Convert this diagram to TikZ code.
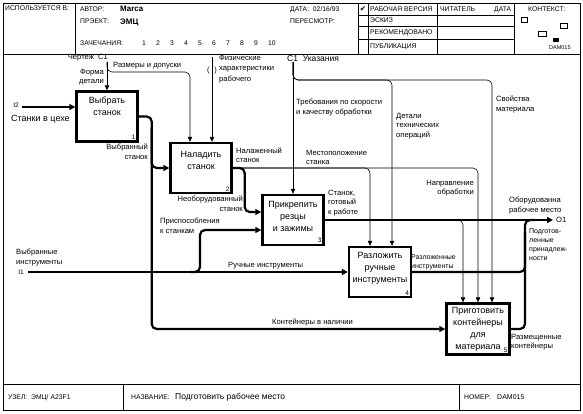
\documentclass[tikz,border=0pt]{standalone}
\usepackage{fontspec}
\setmainfont{Liberation Sans}
\newfontfamily\chkfont{DejaVu Sans}
\usetikzlibrary{arrows.meta}

\begin{document}
\begin{tikzpicture}[x=1pt,y=-1pt]
\tikzstyle{func}=[draw,line width=2.4pt,minimum width=61pt,minimum height=50pt,inner sep=1pt,align=center,font=\fontsize{9}{12}\selectfont]
\tikzstyle{num}=[anchor=south east,inner sep=3pt,font=\fontsize{6.5}{6.5}\selectfont]
\tikzstyle{heavy}=[line width=2.2pt,rounded corners=5pt,-{Triangle[length=6pt,width=6pt]}]
\tikzstyle{light}=[line width=0.6pt,rounded corners=5pt,-{Triangle[length=5pt,width=4.5pt]}]
\tikzstyle{lbl}=[inner sep=0pt,align=left,font=\fontsize{7.6}{9.5}\selectfont]
\tikzstyle{hdr}=[inner sep=0pt,anchor=base west,font=\fontsize{6.8}{7}\selectfont]
\useasboundingbox (0,0) rectangle (583,414);
\fill[white] (0,0) rectangle (583,414);

% frame, header and footer
\draw[line width=0.8pt] (3,3) rectangle (580,410);
\draw (3,54) -- (580,54) (3,384) -- (580,384);
\foreach \x in {75,358,368,437,514} \draw (\x,3) -- (\x,54);
\foreach \y in {15,26,39} \draw (358,\y) -- (514,\y);
\foreach \x in {123,459} \draw (\x,384) -- (\x,410);
\node[hdr] (hisp) at (5,11) {ИСПОЛЬЗУЕТСЯ В:};
\node[hdr] (haut) at (80,12) {АВТОР:};
\node[hdr,font=\fontsize{8}{8}\selectfont\bfseries] (hmar) at (120,12) {Marca};
\node[hdr] (hprj) at (80,24) {ПРЭЕКТ:};
\node[hdr,font=\fontsize{8}{8}\selectfont\bfseries] (hemc) at (120,25) {ЭМЦ};
\node[hdr] (hzam) at (80,46) {ЗАЧЕЧАНИЯ:};
\foreach \n in {1,...,10} \node[hdr] (hz\n) at (128+14*\n,46) {\n};
\node[hdr] (hdat) at (290,12) {ДАТА: \ 02/16/93};
\node[hdr] (hper) at (290,24) {ПЕРЕСМОТР:};
\node[inner sep=0pt,font=\chkfont\fontsize{7.5}{7.5}\selectfont] (hchk) at (363,9) {✔};
\node[hdr] (hrab) at (370,12) {РАБОЧАЯ ВЕРСИЯ};
\node[hdr] (hesk) at (370,23) {ЭСКИЗ};
\node[hdr] (hrek) at (370,35) {РЕКОМЕНДОВАНО};
\node[hdr] (hpub) at (370,49) {ПУБЛИКАЦИЯ};
\node[hdr] (hcht) at (440,12) {ЧИТАТЕЛЬ};
\node[hdr] (hdt2) at (494,12) {ДАТА};
\node[hdr] (hkon) at (528,12) {КОНТЕКСТ:};
\draw (521,17) rectangle (527,22) (560,23) rectangle (567,28) (538,31) rectangle (546,36);
\fill (553,38) rectangle (559,42);
\node[hdr,font=\fontsize{5.5}{5.5}\selectfont] (hdam) at (549,50) {DAM015};
\node[hdr] (fuz) at (8,399) {УЗЕЛ: \ ЭМЦ/ A23F1};
\node[hdr] (fnaz) at (131,399) {НАЗВАНИЕ:};
\node[hdr,font=\fontsize{8.5}{9}\selectfont] (fpod) at (175,399) {Подготовить рабочее место};
\node[hdr] (fnom) at (464,399) {НОМЕР:};
\node[hdr,font=\fontsize{7}{7}\selectfont] (fdam) at (497,399) {DAM015};

% functions
\node[func,text depth=20pt,label={[num]south east:1}] (b1) at (107,116.5) {Выбрать\\станок};
\node[func,text depth=16pt,label={[num]south east:2}] (b2) at (201,168) {Наладить\\станок};
\node[func,text depth=7pt,label={[num]south east:3}] (b3) at (293,220) {Прикрепить\\резцы\\и зажимы};
\node[func,text depth=9pt,minimum width=62pt,label={[num]south east:4}] (b4) at (380,272) {Разложить\\ручные\\инструменты};
\node[func,minimum width=63pt,minimum height=51pt,label={[num]south east:5}] (b5) at (478,329) {Приготовить\\контейнеры\\для\\материала};

% inputs
\coordinate (i2) at (22,107);
\draw[heavy] (i2) -- (b1.west |- i2);
\node[lbl,anchor=east,font=\fontsize{6.5}{6.5}\selectfont] (ni2) at (19,105) {I2};
\node[lbl,anchor=west,font=\fontsize{9}{10}\selectfont] (nst) at (11,119) {Станки в цехе};
\coordinate (i1) at (28,272);
\draw[heavy] (i1) -- (b4.west);
\node[lbl,anchor=east,font=\fontsize{6.5}{6.5}\selectfont] (ni1) at (24,272) {I1};
\node[lbl,anchor=south west] (nvi) at (16,266) {Выбранные\\инструменты};
\node[lbl,anchor=south west] (nri) at (228,269) {Ручные инструменты};
\coordinate (pr) at (190,272);
\draw[heavy] (pr) -- ++(10,0) |- ([yshift=-10pt]b3.west);
\node[lbl,anchor=north west] (npr) at (160,218) {Приспособления\\к станкам};

% controls
\coordinate (c1) at (107,62);
\draw[light] (c1) -- (b1.north);
\draw[light] (c1) -- ++(0,10) -| ([xshift=-11pt]b2.north);
\node[lbl,anchor=east] (nch) at (108,58) {Чертеж \ C1};
\node[lbl,anchor=north east,align=right] (nfd) at (104,69) {Форма\\детали};
\node[lbl,anchor=south west] (nrd) at (113,69) {Размеры и допуски};
\coordinate (c2) at (212,57);
\draw[light] (c2) -- ([xshift=11pt]b2.north);
\node[inner sep=0pt,font=\fontsize{7.5}{7.5}\selectfont] (tun) at (212,71) {(\hspace{5pt})};
\node[lbl,anchor=north west,font=\fontsize{7.6}{10.5}\selectfont] (nfx) at (219,55) {Физические\\характеристики\\рабочего};
\coordinate (c3) at (293,62);
\draw[light] (c3) -- (b3.north);
\draw[light] (c3) -- ++(0,18) -| ([xshift=12pt]b4.north);
\draw[light] (c3) -- ++(0,18) -| ([xshift=14pt]b5.north);
\node[lbl,anchor=west,font=\fontsize{8.5}{9}\selectfont] (nuk) at (287,59) {C1 \ Указания};
\node[lbl,anchor=north west] (ntq) at (296,99) {Требования по скорости\\и качеству обработки};
\node[lbl,anchor=north west] (ndt) at (396,113) {Детали\\технических\\операций};
\node[lbl,anchor=north west] (nsv) at (496,96) {Свойства\\материала};

% flows between functions
\draw[heavy] (b1.east) -- ++(13,0) |- (b2.west);
\draw[heavy] ([xshift=13pt,yshift=-12pt]b1.east) |- (b5.west);
\node[lbl,anchor=north east,align=right] (nvs) at (148,144) {Выбранный\\станок};
\node[lbl,anchor=south west] (nkn) at (272,326) {Контейнеры в наличии};
\draw[light] ([xshift=8pt]b2.east) -| ([xshift=-10pt]b4.north);
\draw[light] ([xshift=8pt]b2.east) -| (b5.north);
\draw[heavy] (b2.east) -- ++(12,0) |- ([yshift=8pt]b3.west);
\node[lbl,anchor=south west] (nnl) at (236,163) {Налаженный\\станок};
\node[lbl,anchor=south west] (nms) at (306,165) {Местоположение\\станка};
\node[lbl,anchor=north east,align=right] (nnb) at (243,196) {Необорудованный\\станок};
\node[lbl,anchor=north east,align=right] (nno) at (474,180) {Направление\\обработки};

% outputs
\coordinate (o1) at (553,220);
\coordinate (jn) at (525,220);
\draw[light] ([xshift=132pt]b3.east) -| ([xshift=-15pt]b5.north);
\draw[heavy] (b3.east) -- (o1);
\draw[heavy,-] (b4.east) -| ([yshift=-12pt]jn);
\draw[heavy,-] (b5.east) -| (jn) -- ++(10,0);
\node[lbl,anchor=west] (no1) at (556,220) {O1};
\node[lbl,anchor=south west] (ngt) at (328,216) {Станок,\\готовый\\к работе};
\node[lbl,anchor=south west] (nor) at (509,214) {Оборудованна\\рабочее место};
\node[lbl,anchor=south west,font=\fontsize{7}{8.5}\selectfont] (nrz) at (411,270) {Разложенные\\инструменты};
\node[lbl,anchor=north west,font=\fontsize{7}{9}\selectfont] (npd) at (529,228) {Подготов-\\ленные\\принадлеж-\\ности};
\node[lbl,anchor=north west] (nrk) at (511,334) {Размещенные\\контейнеры};
\end{tikzpicture}
\end{document}
